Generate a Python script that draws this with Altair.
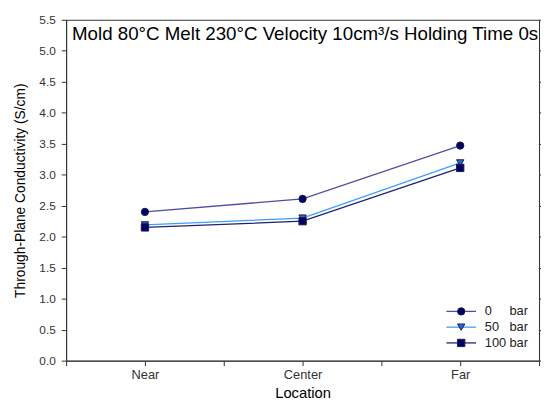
import altair as alt
import pandas as pd

locations = ["Near", "Center", "Far"]
series = ["0 bar", "50 bar", "100 bar"]
series_num = ["0", "50", "100"]
vals_0 = [2.40, 2.61, 3.47]
vals_50 = [2.19, 2.30, 3.19]
vals_100 = [2.15, 2.25, 3.11]

line_colors = ["#4f4fa6", "#3aa0ff", "#22226f"]
fill_colors = ["#000066", "#1f6fd6", "#000066"]
shapes = ["circle", "triangle-down", "square"]

rows = []
for s, vals in zip(series, [vals_0, vals_50, vals_100]):
    for i, (loc, v) in enumerate(zip(locations, vals)):
        rows.append({"series": s, "loc": loc, "pos": i + 0.5, "value": v})
df = pd.DataFrame(rows)

leg = pd.DataFrame({"series": series, "num": series_num, "bar": ["bar"] * 3})

xscale = alt.Scale(domain=[0, 3], nice=False)
yscale = alt.Scale(domain=[0, 5.5], nice=False)
label_expr = "datum.value == 0.5 ? 'Near' : datum.value == 1.5 ? 'Center' : datum.value == 2.5 ? 'Far' : ''"

color_scale = alt.Scale(domain=series, range=line_colors)
fill_scale = alt.Scale(domain=series, range=fill_colors)
shape_scale = alt.Scale(domain=series, range=shapes)

base = alt.Chart(df)
lines = base.mark_line(strokeWidth=1.3).encode(
    x=alt.X("pos:Q", scale=xscale,
            axis=alt.Axis(values=[0, 0.5, 1, 1.5, 2, 2.5, 3], labelExpr=label_expr,
                          title="Location", grid=False, tickSize=5, labelPadding=3,
                          labelFontSize=13,
                          titleFontSize=15, titleFontWeight="normal", titlePadding=4)),
    y=alt.Y("value:Q", scale=yscale,
            axis=alt.Axis(values=[i * 0.5 for i in range(12)], format=".1f",
                          title="Through-Plane Conductivity (S/cm)", grid=False,
                          tickSize=5, labelPadding=6, titleFontSize=14,
                          titleFontWeight="normal", titlePadding=12)),
    color=alt.Color("series:N", scale=color_scale, legend=None),
    detail="series:N",
)
points = base.mark_point(filled=True, strokeWidth=1, opacity=1).encode(
    x=alt.X("pos:Q", scale=xscale),
    y=alt.Y("value:Q", scale=yscale),
    fill=alt.Fill("series:N", scale=fill_scale, legend=None),
    shape=alt.Shape("series:N", scale=shape_scale, legend=None),
    stroke=alt.value("#1a1a4a"),
    size=alt.value(55),
)

title_txt = alt.Chart(pd.DataFrame({"t": ["Mold 80°C Melt 230°C Velocity 10cm³/s Holding Time 0s"]})).mark_text(
    align="left", baseline="middle", fontSize=19, font="Liberation Sans", color="#000"
).encode(x=alt.value(6), y=alt.value(15), text="t:N")

ly = alt.Y("series:N", scale=alt.Scale(type="point", domain=series, range=[296, 328], padding=0), axis=None)
leg_base = alt.Chart(leg)
leg_line = leg_base.mark_rule(strokeWidth=1.3).encode(
    x=alt.value(386), x2=alt.value(416), y=ly,
    color=alt.Color("series:N", scale=color_scale, legend=None),
)
leg_pt = leg_base.mark_point(filled=True, strokeWidth=1, opacity=1).encode(
    x=alt.value(401), y=ly,
    fill=alt.Fill("series:N", scale=fill_scale, legend=None),
    shape=alt.Shape("series:N", scale=shape_scale, legend=None),
    stroke=alt.value("#1a1a4a"),
    size=alt.value(55),
)
leg_num = leg_base.mark_text(align="left", baseline="middle", fontSize=13, font="Liberation Sans", color="#222").encode(
    x=alt.value(425), y=ly, text="num:N")
leg_bar = leg_base.mark_text(align="left", baseline="middle", fontSize=13, font="Liberation Sans", color="#222").encode(
    x=alt.value(450), y=ly, text="bar:N")

chart = alt.layer(lines, points, title_txt, leg_line, leg_pt, leg_num, leg_bar).properties(
    width=480, height=346,
    autosize=alt.AutoSizeParams(type="none"),
    padding={"left": 59, "top": 9, "right": 2, "bottom": 38},
).configure_view(stroke="#333", strokeWidth=1).configure_axis(
    labelFont="Liberation Sans", titleFont="Liberation Sans", labelFontSize=12,
    labelColor="#333", titleColor="#000", domainColor="#333", tickColor="#333",
)

chart.save("out.html", embed_options={"renderer": "svg", "actions": False})
